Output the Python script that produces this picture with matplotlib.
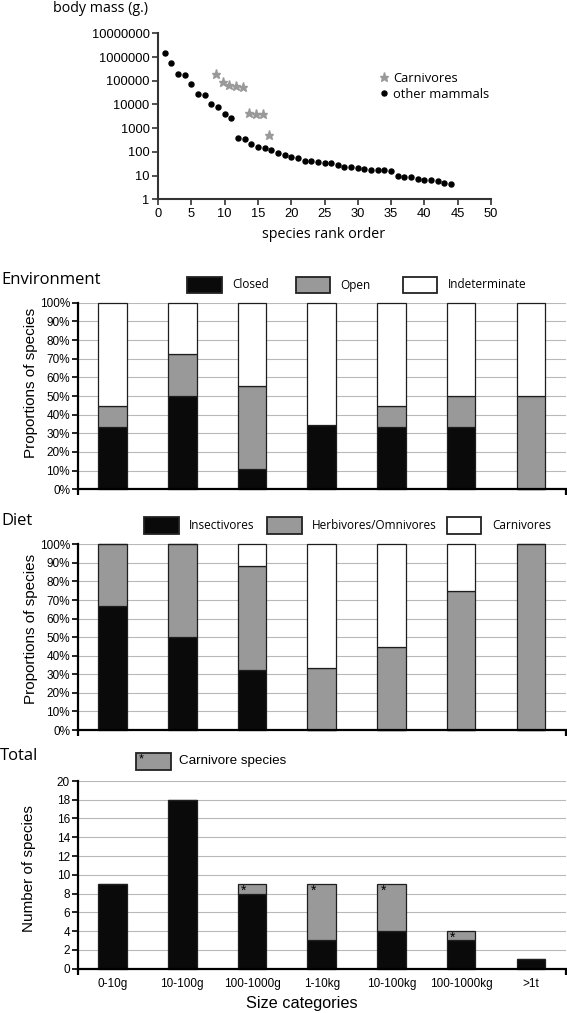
import numpy as np
import matplotlib.pyplot as plt
from matplotlib.patches import Rectangle
from matplotlib.ticker import NullLocator

# --- data -------------------------------------------------------------------
rank = list(range(1, 45))
mass = [1.5e6, 5.6e5, 1.9e5, 1.7e5, 7e4, 2.7e4, 2.4e4, 1e4, 8e3, 4e3, 2.8e3,
        370, 350, 210, 160, 145, 120, 90, 71, 59, 55, 42, 42, 38, 34, 33, 28,
        23, 23, 21, 19, 18, 18, 17, 15.5, 10, 9, 8.6, 7, 6.5, 6.3, 5.8, 5.1, 4.5]
carn_rank = [8.7, 9.7, 10.7, 11.7, 12.7, 13.7, 14.7, 15.7, 16.6]
carn_mass = [2e5, 9e4, 6.6e4, 6.2e4, 5.6e4, 4.2e3, 4e3, 3.8e3, 510]

size_cats = ["0-10g", "10-100g", "100-1000g", "1-10kg", "10-100kg",
             "100-1000kg", ">1t"]

env_closed = [33.3, 50.0, 11.1, 34.5, 33.5, 33.3, 0.0]
env_open = [11.2, 22.4, 44.4, 0.0, 11.4, 16.7, 50.0]
env_indet = [55.5, 27.6, 44.5, 65.5, 55.1, 50.0, 50.0]

diet_insect = [66.7, 50.0, 32.5, 0.0, 0.0, 0.0, 0.0]
diet_herb = [33.3, 50.0, 55.8, 33.6, 44.5, 74.7, 100.0]
diet_carn = [0.0, 0.0, 11.7, 66.4, 55.5, 25.3, 0.0]

n_other = [9, 18, 8, 3, 4, 3, 1]
n_carn = [0, 0, 1, 6, 5, 1, 0]

# --- style -------------------------------------------------------------------
SANS = ["Liberation Sans", "DejaVu Sans"]
MYR = ["Open Sans", "DejaVu Sans"]
BLACK = "#0a0a0a"
GREY = "#999999"
EDGE = "#1e1e1e"
GRID = "#b8b8b8"

W, H = 567, 1013
fig = plt.figure(figsize=(W / 100, H / 100), dpi=100)


def fx(px):
    return px / W


def fy(py):
    return 1 - py / H


# --- body mass vs rank -------------------------------------------------------
ax0 = fig.add_axes([fx(158), fy(199.3), fx(491) - fx(158), fy(33.3) - fy(199.3)])
ax0.set_yscale("log")
ax0.plot(rank, mass, "o", color="black", ms=3.6, ls="none", label="other mammals")
ax0.plot(carn_rank, carn_mass, "*", color=GREY, ms=6.8, ls="none", label="Carnivores")
ax0.set_xlim(0, 50)
ax0.set_ylim(1, 1e7)
yt = [10 ** i for i in range(8)]
ax0.set_yticks(yt)
ax0.set_yticklabels([str(v) for v in yt])
ax0.yaxis.set_minor_locator(NullLocator())
ax0.set_xticks(range(0, 51, 5))
for s in ["top", "right"]:
    ax0.spines[s].set_visible(False)
for s in ["left", "bottom"]:
    ax0.spines[s].set_linewidth(1.5)
    ax0.spines[s].set_color("#333333")
ax0.tick_params(direction="out", length=4, width=1.2, color="#333333",
                labelsize=9.3, pad=2)
for lab in ax0.get_xticklabels() + ax0.get_yticklabels():
    lab.set_family(SANS)
h, l = ax0.get_legend_handles_labels()
ax0.legend(h[::-1], l[::-1], frameon=False, loc="upper left",
           bbox_to_anchor=(fx(379), fy(72)), bbox_transform=fig.transFigure,
           borderaxespad=0, borderpad=0, handlelength=0.7, handletextpad=0.4,
           labelspacing=0.2, prop={"family": MYR, "size": 9.3})
fig.text(fx(53), fy(8), "body mass (g.)", family=MYR, fontsize=10.3,
         ha="left", va="center")
fig.text(fx(323.7), fy(235), "species rank order", family=MYR, fontsize=10.3,
         ha="center", va="center")


# --- stacked bar panels ----------------------------------------------------
def bar_axes(top_px, bottom_px):
    ax = fig.add_axes([fx(77.7), fy(bottom_px), fx(565.7) - fx(77.7),
                       fy(top_px) - fy(bottom_px)])
    ax.set_axisbelow(True)
    ax.yaxis.grid(True, color=GRID, lw=0.8)
    for s in ["top", "right"]:
        ax.spines[s].set_visible(False)
    for s in ["left", "bottom"]:
        ax.spines[s].set_linewidth(1.6)
        ax.spines[s].set_color("black")
    ax.set_xlim(-0.5, 6.5)
    ax.set_xticks([-0.5, 6.5], minor=True)
    ax.tick_params(axis="x", which="minor", direction="out", length=4, width=1.6)
    ax.tick_params(axis="y", direction="out", length=4, width=1.2,
                   labelsize=8.5, pad=1.5)
    return ax


def stack(ax, series, colors, w=0.41):
    x = np.arange(len(series[0]))
    bottom = np.zeros(len(x))
    for vals, c in zip(series, colors):
        ax.bar(x, vals, w, bottom=bottom, color=c, edgecolor=EDGE,
               linewidth=0.9, clip_on=False)
        bottom = bottom + np.array(vals)
    return x, bottom


def pct_axis(ax):
    ax.set_ylim(0, 100)
    ax.set_yticks(range(0, 101, 10))
    ax.set_yticklabels([f"{v}%" for v in range(0, 101, 10)], family=SANS)
    ax.set_xticks([])


def legend_box(x0, x1, y0, y1, color, label, tx, family=MYR, size=8.5):
    fig.patches.append(Rectangle((fx(x0), fy(y1)), fx(x1) - fx(x0),
                                 fy(y0) - fy(y1), transform=fig.transFigure,
                                 facecolor=color, edgecolor="#222222", lw=1.3))
    fig.text(fx(tx), fy((y0 + y1) / 2), label, family=family, fontsize=size,
             ha="left", va="center")


# Environment
ax1 = bar_axes(302.7, 489.3)
stack(ax1, [env_closed, env_open, env_indet], [BLACK, GREY, "white"])
pct_axis(ax1)
fig.text(fx(1.7), fy(280.5), "Environment", family=MYR, fontsize=12,
         ha="left", va="center")
fig.text(fx(30.8), fy(383), "Proportions of species", family=SANS,
         fontsize=11, rotation=90, ha="center", va="center")
legend_box(187.3, 221.7, 276.7, 293.3, BLACK, "Closed", 231.9)
legend_box(296.4, 330.4, 276.7, 293.3, GREY, "Open", 340.6)
legend_box(402.9, 436.6, 276.7, 293.3, "white", "Indeterminate", 447.5)

# Diet
ax2 = bar_axes(544.3, 730)
stack(ax2, [diet_insect, diet_herb, diet_carn], [BLACK, GREY, "white"])
pct_axis(ax2)
fig.text(fx(1), fy(520.7), "Diet", family=MYR, fontsize=12,
         ha="left", va="center")
fig.text(fx(30.8), fy(629), "Proportions of species", family=SANS,
         fontsize=11, rotation=90, ha="center", va="center")
legend_box(144.2, 178.6, 516.7, 534.3, BLACK, "Insectivores", 188.4)
legend_box(267.4, 301.8, 516.7, 534.3, GREY, "Herbivores/Omnivores", 311.6)
legend_box(446.7, 481.2, 516.7, 534.3, "white", "Carnivores", 492)

# Total
ax3 = bar_axes(781, 968.5)
x, tops = stack(ax3, [n_other, n_carn], [BLACK, GREY])
ax3.set_ylim(0, 20)
ax3.set_yticks(range(0, 21, 2))
ax3.set_yticklabels([str(v) for v in range(0, 21, 2)], family=SANS)
ax3.set_xticks(x)
ax3.set_xticklabels(size_cats, family=SANS, fontsize=8.5)
ax3.tick_params(axis="x", which="major", length=0, pad=7)
for xi, nc, t in zip(x, n_carn, tops):
    if nc > 0:
        ax3.text(xi - 0.41 / 2 + 0.05, t, "*", family=SANS, fontsize=10,
                 ha="left", va="top")
fig.text(fx(0), fy(756), "Total", family=MYR, fontsize=12,
         ha="left", va="center")
fig.text(fx(29), fy(869), "Number of species", family=SANS,
         fontsize=11, rotation=90, ha="center", va="center")
fig.text(fx(301.6), fy(1003), "Size categories", family=SANS, fontsize=11.7,
         ha="center", va="center")
legend_box(136, 170.7, 752.7, 770, GREY, "Carnivore species", 179,
           family=SANS, size=9.6)
fig.text(fx(138.5), fy(753.5), "*", family=SANS, fontsize=9, ha="left", va="top")

fig.savefig("out.png", dpi=100)
